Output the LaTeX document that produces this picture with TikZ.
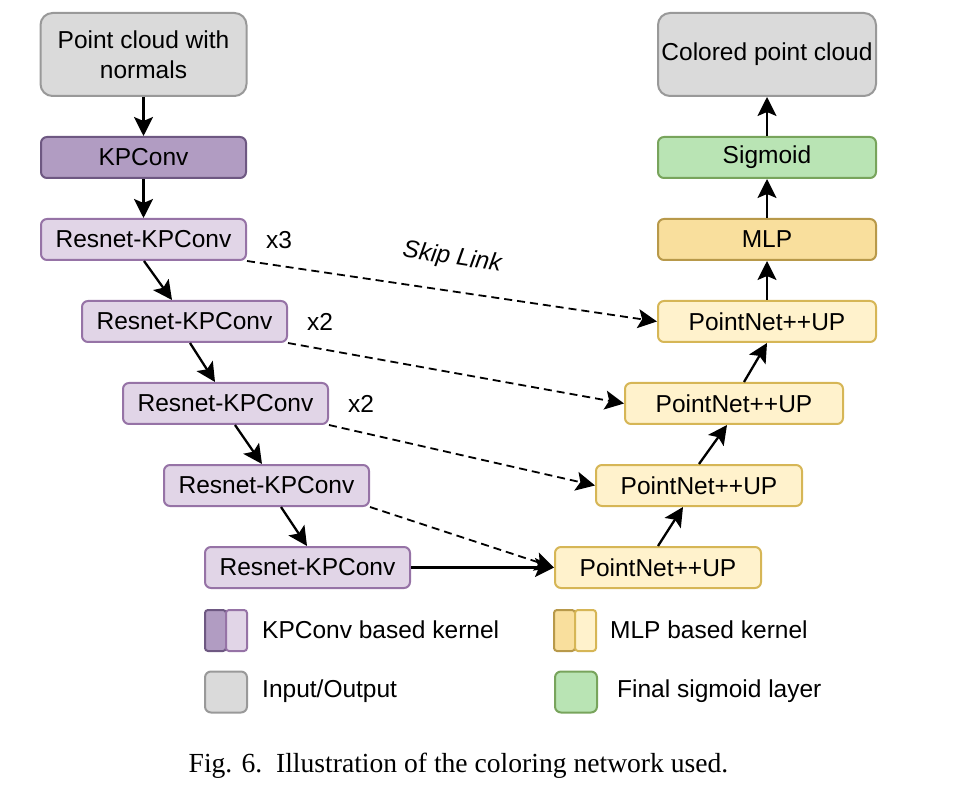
\documentclass[tikz,border=0pt]{standalone}
\usepackage{fontspec}
\setmainfont{Liberation Sans}
\newfontfamily\capfont{Liberation Serif}
\usetikzlibrary{arrows.meta}
\definecolor{iofill}{HTML}{DADADA}
\definecolor{iodraw}{HTML}{999999}
\definecolor{kpfill}{HTML}{B19CC2}
\definecolor{kpdraw}{HTML}{6E5882}
\definecolor{rsfill}{HTML}{E1D5E7}
\definecolor{rsdraw}{HTML}{9673A6}
\definecolor{pnfill}{HTML}{FFF2CC}
\definecolor{pndraw}{HTML}{D6B656}
\definecolor{mlpfill}{HTML}{F9DF9D}
\definecolor{mlpdraw}{HTML}{B8994A}
\definecolor{sgfill}{HTML}{B9E4B4}
\definecolor{sgdraw}{HTML}{78A45C}
\tikzset{
  blk/.style={rectangle, rounded corners=6pt, line width=2pt, inner sep=0pt, minimum height=41pt, align=center},
  iobox/.style={blk, fill=iofill, draw=iodraw, rounded corners=12pt, minimum height=83pt, minimum width=206pt},
  kpbox/.style={blk, fill=kpfill, draw=kpdraw, minimum width=205pt},
  rsbox/.style={blk, fill=rsfill, draw=rsdraw, minimum width=205pt},
  pnbox/.style={blk, fill=pnfill, draw=pndraw},
  mlpbox/.style={blk, fill=mlpfill, draw=mlpdraw, minimum width=218pt},
  sgbox/.style={blk, fill=sgfill, draw=sgdraw, minimum width=218pt},
  tipA/.tip={Stealth[length=19pt,width=19pt,inset=4pt]},
  arr/.style={line width=2.3pt, -tipA},
  skip/.style={line width=1.8pt, dash pattern=on 8pt off 5pt, -tipA},
  lgd/.style={rectangle, rounded corners=3pt, line width=2pt, inner sep=0pt, minimum width=21pt, minimum height=41pt},
  lgdtxt/.style={anchor=west, inner sep=0pt},
}
\begin{document}
\begin{tikzpicture}[x=1pt, y=-1pt, font=\fontsize{24.5}{30}\selectfont]
\useasboundingbox (0,0) rectangle (962,786);

% left column
\node[iobox] (in) at (143.5,54.5) {Point cloud with\\normals};
\node[kpbox] (kp) at (143.5,157.5) {KPConv};
\node[rsbox] (r1) at (143.5,239.5) {Resnet-KPConv};
\node[rsbox] (r2) at (184.5,321.5) {Resnet-KPConv};
\node[rsbox] (r3) at (225.5,403.5) {Resnet-KPConv};
\node[rsbox] (r4) at (266.5,485.5) {Resnet-KPConv};
\node[rsbox] (r5) at (307.5,567.5) {Resnet-KPConv};
\node[anchor=west, inner sep=0pt] (m1) at (266,240) {x3};
\node[anchor=west, inner sep=0pt] (m2) at (307,322) {x2};
\node[anchor=west, inner sep=0pt] (m3) at (348,404) {x2};

% right column
\node[iobox, minimum width=218pt] (out) at (767,54.5) {Colored point cloud};
\node[sgbox] (sg) at (767,157.5) {Sigmoid};
\node[mlpbox] (mlp) at (767,239.5) {MLP};
\node[pnbox, minimum width=218pt] (p1) at (767,321.5) {PointNet++UP};
\node[pnbox, minimum width=218pt] (p2) at (734,403.5) {PointNet++UP};
\node[pnbox, minimum width=206pt] (p3) at (699,485.5) {PointNet++UP};
\node[pnbox, minimum width=206pt] (p4) at (658,567.5) {PointNet++UP};

% down arrows
\draw[arr] (in.south) -- (kp.north);
\draw[arr] (kp.south) -- (r1.north);
\draw[arr] ([xshift=0.5pt]r1.south) -- ([xshift=-12.5pt]r2.north);
\draw[arr] ([xshift=5.5pt]r2.south) -- ([xshift=-10.5pt]r3.north);
\draw[arr] ([xshift=9.5pt]r3.south) -- ([xshift=-4.5pt]r4.north);
\draw[arr] ([xshift=14.5pt]r4.south) -- ([xshift=-0.5pt]r5.north);

% up arrows
\draw[arr] (p4.north) -- ([xshift=-16pt]p3.south);
\draw[arr] (p3.north) -- ([xshift=-7pt]p2.south);
\draw[arr] ([xshift=10pt]p2.north) -- (p1.south);
\draw[arr] (p1.north) -- (mlp.south);
\draw[arr] (mlp.north) -- (sg.south);
\draw[arr] (sg.north) -- (out.south);

% skip links
\draw[skip] (r1.south east) -- (p1.west);
\draw[skip] (r2.south east) -- (p2.west);
\draw[skip] (r3.south east) -- (p3.west);
\draw[skip] (r4.south east) -- (p4.west);
\draw[arr] (r5.east) -- (p4.west);
\node[rotate=-8.7, font=\fontsize{24.5}{30}\selectfont\itshape] (sl) at (452,258) {Skip Link};

% legend
\node[lgd, fill=kpfill, draw=kpdraw] (l1a) at (215.5,630.5) {};
\node[lgd, fill=rsfill, draw=rsdraw] (l1b) at (236.5,630.5) {};
\node[lgdtxt] (t1) at (262,630) {KPConv based kernel};
\node[lgd, fill=mlpfill, draw=mlpdraw] (l2a) at (564.5,630.5) {};
\node[lgd, fill=pnfill, draw=pndraw] (l2b) at (585.5,630.5) {};
\node[lgdtxt] (t2) at (610,630) {MLP based kernel};
\node[lgd, minimum width=42pt, rounded corners=6pt, fill=iofill, draw=iodraw] (l3) at (226,692) {};
\node[lgdtxt] (t3) at (262,691) {Input/Output};
\node[lgd, minimum width=42pt, rounded corners=6pt, fill=sgfill, draw=sgdraw] (l4) at (576,692) {};
\node[lgdtxt] (t4) at (617,691) {Final sigmoid layer};

% caption
\node[font=\capfont\fontsize{27.6}{30}\selectfont] (cap) at (458.5,766) {Fig. 6.\ \ Illustration of the coloring network used.};
\end{tikzpicture}
\end{document}
